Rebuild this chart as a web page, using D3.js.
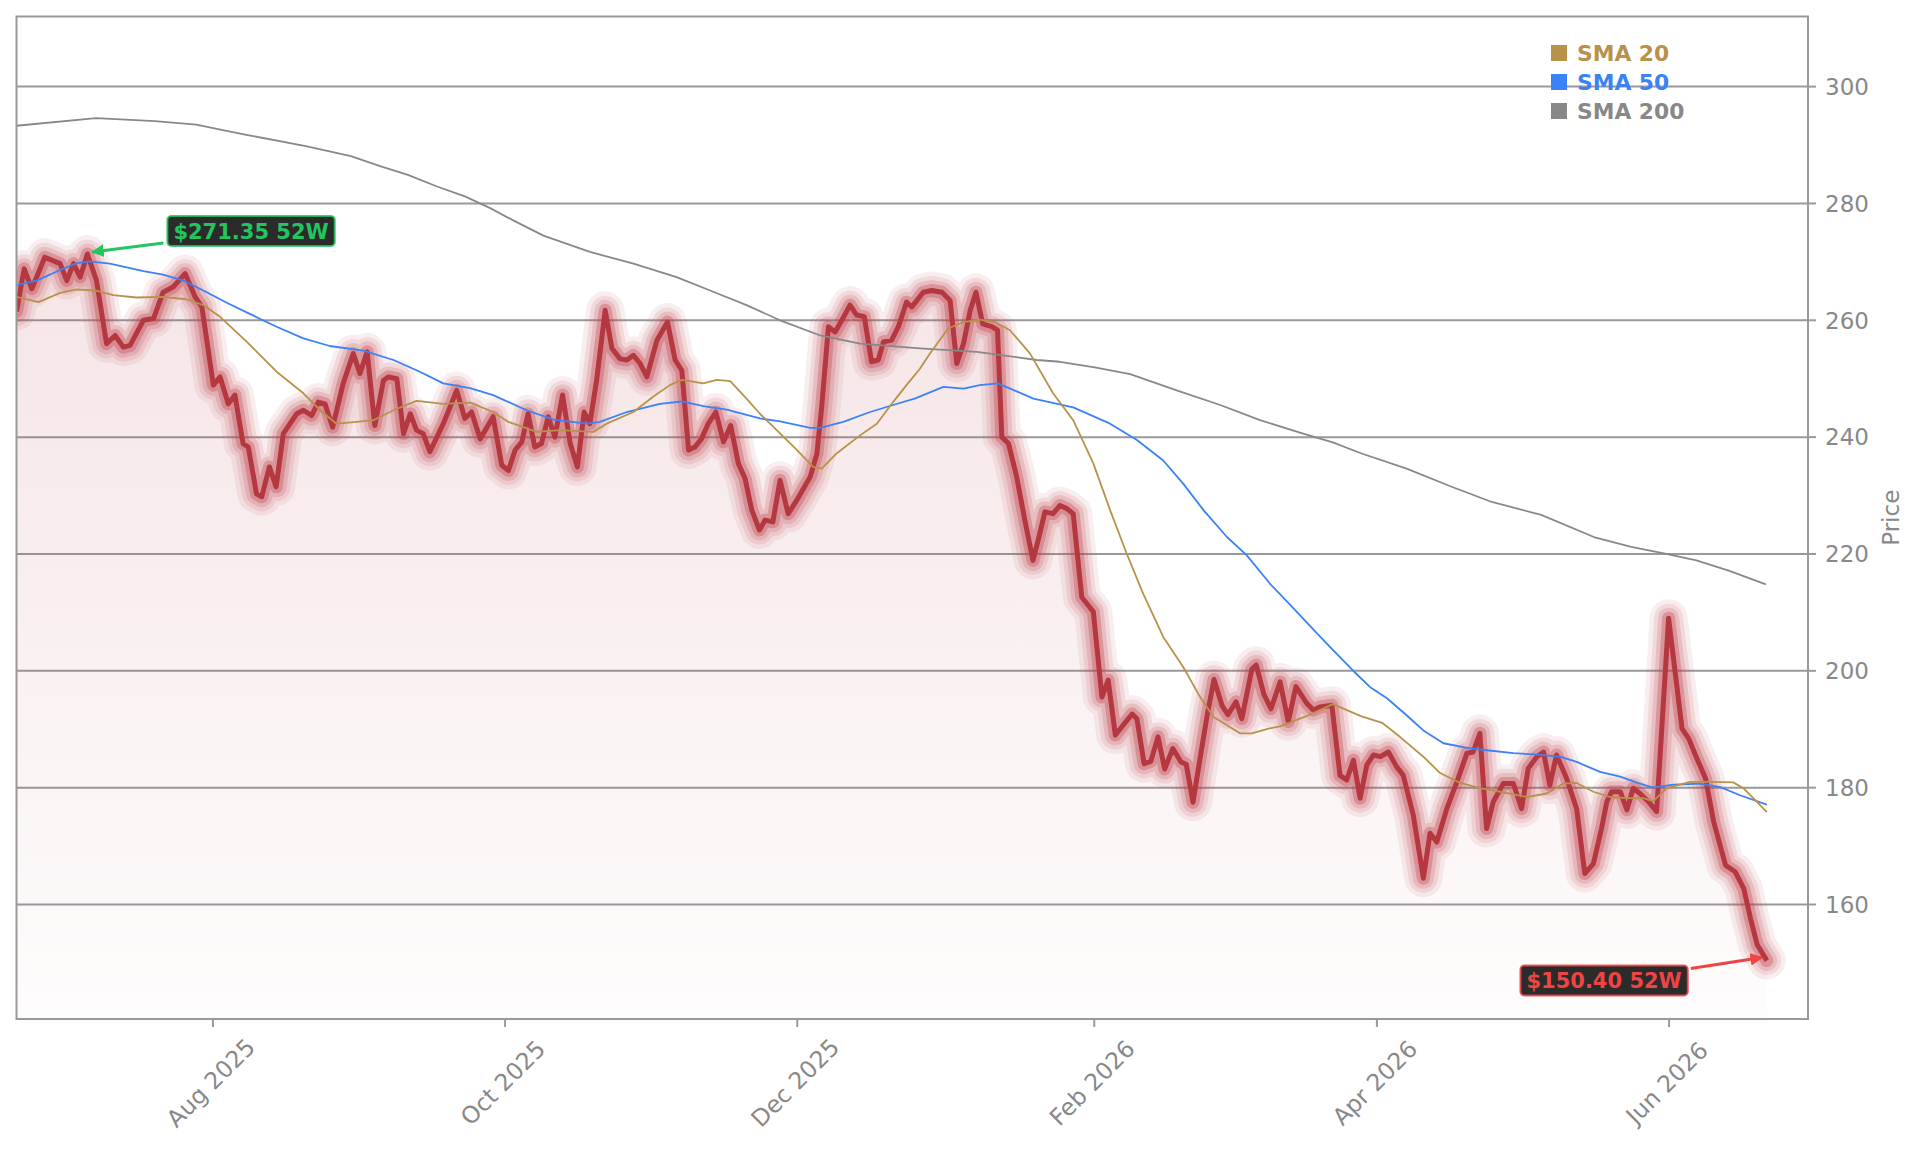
<!DOCTYPE html>
<html><head><meta charset="utf-8">
<script src="https://cdn.jsdelivr.net/npm/d3@7"></script>
<style>
body{margin:0;background:#fff;}
svg{display:block;font-family:"DejaVu Sans",sans-serif;}
</style>
</head><body>
<svg id="chart" width="1921" height="1151"></svg>
<script>
// ---------- data (day offsets from startDate) ----------
const startDate = "2025-06-21";
const endDate = "2026-06-30";

const priceDays = [0.0,1.6,3.2,5.9,9.1,10.5,11.9,13.3,14.8,16.7,18.8,20.6,22.3,23.7,26.5,28.6,30.6,32.7,35.2,37.3,38.7,41.1,42.5,44.2,45.6,47.3,48.4,50.1,51.2,52.8,54.2,55.7,58.5,59.9,61.6,63.0,64.4,66.0,68.2,70.3,71.7,73.2,74.8,76.6,77.6,79.4,80.8,82.2,83.5,84.9,86.3,89.1,91.9,93.6,95.0,96.8,99.5,101.3,102.7,104.1,105.5,106.8,108.2,109.6,111.0,112.4,114.0,115.6,117.1,118.5,119.7,121.1,122.9,124.3,126.0,127.4,128.8,130.2,131.6,133.7,135.9,137.5,138.9,140.3,141.6,143.0,144.4,146.0,147.6,149.1,150.7,152.1,153.5,155.1,156.3,157.9,159.4,161.1,162.9,165.7,167.1,168.1,169.5,170.9,172.3,174.0,175.4,177.0,178.5,179.9,181.0,182.7,184.1,185.8,186.9,189.3,191.1,193.2,194.9,196.3,197.7,199.1,200.3,201.7,203.6,204.8,205.7,207.1,208.8,210.5,212.2,213.3,214.7,216.4,217.8,219.2,220.6,222.4,224.8,226.6,227.9,229.4,231.8,232.9,233.9,235.4,236.8,238.3,239.7,241.4,243.1,244.2,245.6,247.3,248.7,250.0,251.7,252.9,254.6,255.8,257.9,258.8,260.4,261.9,263.8,265.5,267.1,269.4,270.7,272.1,274.6,276.3,277.7,279.1,280.5,281.9,283.3,284.7,286.4,288.1,289.5,291.6,293.7,295.1,296.5,298.6,300.7,302.8,304.1,305.5,306.9,308.3,310.4,312.5,314.2,315.6,317.4,318.8,320.1,321.5,323.6,325.7,327.4,329.2,330.9,332.0,333.0,334.8,336.2,337.5,338.9,340.7,342.4,344.9,347.7,349.1,350.8,352.6,354.3,356.8,358.8,360.6,362.0,363.4,365.4];
const priceValues = [261.5,268.8,265.4,270.8,269.7,266.8,269.7,267.4,271.35,266.8,256.0,257.4,255.4,255.7,260.0,260.3,264.8,265.7,268.0,264.0,262.3,248.9,250.3,245.7,247.2,238.9,238.3,230.3,229.8,234.9,231.5,240.6,244.0,244.6,243.7,246.0,245.7,241.7,249.2,254.3,250.9,254.6,242.0,249.7,250.3,250.0,240.6,244.0,241.2,240.6,237.5,242.3,248.0,243.2,244.3,239.7,243.5,235.2,234.3,237.8,239.2,244.0,238.3,238.9,243.5,240.0,247.2,238.9,234.9,244.3,242.3,249.7,261.7,255.2,253.4,253.2,254.0,252.6,250.3,256.6,259.7,253.2,251.4,237.8,238.3,239.7,242.3,244.3,239.2,242.0,235.5,232.9,227.5,224.1,225.8,225.5,232.6,226.9,229.2,233.2,237.2,245.2,258.9,258.0,260.0,262.6,260.9,260.6,252.9,253.2,256.3,256.6,258.9,263.1,262.3,264.8,265.1,264.8,263.4,252.6,256.0,261.7,264.8,259.4,258.9,258.3,240.0,238.9,233.2,225.8,218.9,222.4,227.2,226.9,228.3,227.8,226.9,212.6,210.1,195.5,198.4,189.0,191.5,192.6,191.8,184.1,184.5,188.7,183.2,186.7,184.4,184.0,177.5,186.1,193.0,198.5,194.0,192.5,194.7,191.8,200.3,201.0,196.0,193.5,198.1,191.3,197.3,194.4,193.3,193.8,194.1,182.1,181.3,184.7,178.2,183.9,185.6,185.3,186.1,183.6,182.1,175.3,164.5,172.2,170.7,176.4,181.0,185.9,186.1,189.3,173.0,177.6,180.7,180.7,176.4,183.3,185.3,186.1,180.4,185.6,181.6,176.4,165.3,167.0,173.0,177.6,179.3,179.3,176.2,179.9,179.0,177.6,175.9,209.0,190.1,188.4,185.0,181.6,174.2,166.7,165.6,162.7,157.6,153.1,150.4];

const sma20Days = [0,4.6,9.1,12.6,16.4,20.2,25.1,30.6,35.5,39.0,42.5,48.1,54.3,59.9,63.4,66.8,71.0,74.5,78.7,83.5,89.1,94.7,99.5,102.7,106.5,108.6,113.5,120.4,123.2,128.8,132.9,136.4,138.9,143.4,146.2,149.0,152.4,155.2,158.7,162.9,166.3,168.1,171.2,176.1,179.6,183.0,185.8,188.6,190.7,194.5,197.7,201.1,204.3,207.4,211.6,216.4,220.6,224.8,228.3,231.8,235.2,239.4,243.6,247.1,249.9,255.4,257.9,261.4,263.7,268.9,274.8,280.8,285.1,288.8,293.7,297.2,301.4,305.5,309.7,315.3,319.5,322.9,325.7,329.2,332.7,336.2,339.6,341.7,344.5,349.4,353.5,358.4,360.5,363.3,365.4];
const sma20Values = [264.0,263.1,264.7,265.3,265.1,264.3,263.9,264.0,263.6,262.6,260.6,256.3,251.2,247.5,244.6,242.3,242.6,242.9,244.6,246.2,245.7,245.9,244.3,242.6,241.5,240.9,241.2,240.9,242.3,244.3,246.9,248.9,249.8,249.2,249.8,249.6,246.6,244.0,241.2,237.8,234.9,234.6,237.2,240.3,242.3,246.0,248.9,251.7,254.3,258.6,259.7,260.1,259.7,258.3,254.3,247.5,242.9,235.5,227.5,220.0,213.2,205.8,200.6,195.5,192.1,189.3,189.3,190.1,190.5,192.1,194.3,192.2,191.1,188.7,185.3,182.5,180.8,179.9,179.3,178.4,179.0,180.7,180.8,179.3,178.4,178.2,178.2,177.7,179.9,181.0,181.0,180.9,179.9,177.6,175.8];

const sma50Days = [0,4.2,9.1,12.6,15.3,19.5,26.5,30.6,34.8,39.0,43.9,48.7,54.3,59.9,65.4,72.4,78.7,84.2,89.1,94.7,99.5,106.5,112.1,119.0,121.8,127.4,134.3,138.9,143.4,148.3,155.2,159.4,165.7,167.8,172.6,178.2,183.0,187.5,193.5,197.7,201.1,204.9,212.3,220.6,228.3,233.9,239.4,243.6,247.8,252.7,256.8,261.7,266.6,271.5,274.9,279.3,282.6,286.1,290.2,293.7,297.9,302.8,307.0,312.5,316.7,322.2,325.7,330.6,334.8,338.9,341.7,345.9,351.5,355.7,359.8,365.4];
const sma50Values = [266.0,266.8,268.6,269.8,270.1,269.7,268.4,267.8,266.8,265.1,263.0,261.1,258.9,256.9,255.6,254.8,253.2,251.2,249.2,248.4,247.2,244.6,243.0,242.3,242.6,244.3,245.7,246.1,245.3,244.7,243.2,242.7,241.6,241.6,242.6,244.3,245.5,246.6,248.6,248.3,248.9,249.2,246.6,245.1,242.3,239.5,236.0,232.0,227.5,222.9,219.8,214.9,210.7,206.4,203.5,199.8,197.2,195.3,192.4,189.8,187.6,186.8,186.4,185.9,185.7,185.3,184.4,182.7,181.9,180.7,180.0,180.5,180.7,180.1,178.7,177.1];

const sma200Days = [0,16.6,28.9,37.5,47.7,60.4,69.8,75.9,81.7,87.8,93.6,98.9,103.7,110.0,119.7,128.8,137.8,144.8,152.4,159.4,167.8,176.1,188.6,200.5,213.0,217.8,224.8,232.5,242.2,251.3,259.6,268.6,274.8,280.8,290.2,299.6,308.0,318.3,329.3,337.1,343.9,350.7,357.6,365.2];
const sma200Values = [293.3,294.6,294.1,293.5,291.8,289.8,288.1,286.4,284.9,282.9,281.2,279.2,277.1,274.5,271.7,269.7,267.4,265.1,262.6,260.0,257.4,256.0,255.2,254.6,253.2,252.9,252.0,250.8,248.0,245.5,242.9,240.6,239.1,237.2,234.6,231.5,228.9,226.7,222.9,221.2,220.1,218.9,217.1,214.8];

const yTickValues = [160,180,200,220,240,260,280,300];
const xTickDates = ["2025-08-01","2025-10-01","2025-12-01","2026-02-01","2026-04-01","2026-06-01"];
const legendLabels = ["SMA 20","SMA 50","SMA 200"];
const highLabel = "$271.35 52W";
const lowLabel = "$150.40 52W";
const yAxisTitle = "Price";

// ---------- styles ----------
const COL = {price:"#b5373f", glow:"#c0404c", sma20:"#b8924a", sma50:"#3b82f6", sma200:"#888888",
             grid:"#999999", text:"#888888", green:"#22c55e", red:"#ef4444", boxBg:"#2b2b2b"};

const svg = d3.select("#chart");
const L = 16.5, R = 1808, T = 16.5, B = 1019;
const parse = d3.timeParse("%Y-%m-%d");
const t0 = parse(startDate);
const toDate = d => new Date(t0.getTime() + d * 86400000);

const x = d3.scaleTime().domain([t0, parse(endDate)]).range([L, R]);
const y = d3.scaleLinear().domain([140.4, 312]).range([B, T]);

const price = priceDays.map((d,i)=>({date:toDate(d), v:priceValues[i]}));
const s20 = sma20Days.map((d,i)=>({date:toDate(d), v:sma20Values[i]}));
const s50 = sma50Days.map((d,i)=>({date:toDate(d), v:sma50Values[i]}));
const s200 = sma200Days.map((d,i)=>({date:toDate(d), v:sma200Values[i]}));

const defs = svg.append("defs");
defs.append("clipPath").attr("id","clip").append("rect")
  .attr("x",L).attr("y",T).attr("width",R-L).attr("height",B-T);
const grad = defs.append("linearGradient").attr("id","fillGrad")
  .attr("gradientUnits","userSpaceOnUse").attr("x1",0).attr("x2",0)
  .attr("y1",y(272)).attr("y2",B);
grad.append("stop").attr("offset",0).attr("stop-color","#b8404a").attr("stop-opacity",0.14);
grad.append("stop").attr("offset",1).attr("stop-color","#b8404a").attr("stop-opacity",0.015);

function marker(id,color){
  defs.append("marker").attr("id",id).attr("viewBox","0 0 10 10")
    .attr("refX",9).attr("refY",5).attr("markerWidth",4.2).attr("markerHeight",4.2)
    .attr("markerUnits","strokeWidth").attr("orient","auto")
    .append("path").attr("d","M0,0 L10,5 L0,10 Z").attr("fill",color);
}
marker("arrG",COL.green); marker("arrR",COL.red);

// gridlines
svg.append("g").selectAll("line").data(yTickValues).join("line")
  .attr("x1",L).attr("x2",R).attr("y1",d=>y(d)).attr("y2",d=>y(d))
  .attr("stroke",COL.grid).attr("stroke-width",2);

const plot = svg.append("g").attr("clip-path","url(#clip)");

// area fill
const area = d3.area().x(d=>x(d.date)).y0(B).y1(d=>y(d.v));
plot.append("path").datum(price).attr("d",area).attr("fill","url(#fillGrad)");

// glow layers + price line
const line = d3.line().x(d=>x(d.date)).y(d=>y(d.v));
[[38,0.09],[29,0.12],[21,0.18],[13,0.33]].forEach(([w,o])=>{
  plot.append("path").datum(price).attr("d",line).attr("fill","none")
    .attr("stroke",COL.glow).attr("stroke-opacity",o).attr("stroke-width",w)
    .attr("stroke-linejoin","round").attr("stroke-linecap","round");
});
plot.append("path").datum(price).attr("d",line).attr("fill","none")
  .attr("stroke",COL.price).attr("stroke-width",5).attr("stroke-linejoin","round");

// SMA lines
[[s200,COL.sma200],[s50,COL.sma50],[s20,COL.sma20]].forEach(([data,c])=>{
  plot.append("path").datum(data).attr("d",line).attr("fill","none")
    .attr("stroke",c).attr("stroke-width",1.8).attr("stroke-linejoin","round");
});

// frame
svg.append("rect").attr("x",L).attr("y",T).attr("width",R-L).attr("height",B-T)
  .attr("fill","none").attr("stroke",COL.grid).attr("stroke-width",2);

// y axis (right)
const yAxis = svg.append("g");
yAxis.selectAll("line").data(yTickValues).join("line")
  .attr("x1",R).attr("x2",R+8).attr("y1",d=>y(d)).attr("y2",d=>y(d))
  .attr("stroke",COL.grid).attr("stroke-width",2);
yAxis.selectAll("text").data(yTickValues).join("text")
  .attr("x",R+17).attr("y",d=>y(d)).attr("dy","0.36em")
  .attr("font-size",23).attr("fill",COL.text).text(d=>d);
svg.append("text").attr("transform",`translate(1899,${(T+B)/2}) rotate(-90)`)
  .attr("text-anchor","middle").attr("font-size",23).attr("fill",COL.text).text(yAxisTitle);

// x axis
const fmt = d3.timeFormat("%b %Y");
const xt = xTickDates.map(parse);
const xAxis = svg.append("g");
xAxis.selectAll("line").data(xt).join("line")
  .attr("x1",d=>x(d)).attr("x2",d=>x(d)).attr("y1",B).attr("y2",B+8)
  .attr("stroke",COL.grid).attr("stroke-width",2);
xAxis.selectAll("text").data(xt).join("text")
  .attr("transform",d=>`translate(${x(d)-2},${B+64}) rotate(-45)`)
  .attr("text-anchor","middle").attr("dominant-baseline","central")
  .attr("font-size",23.5).attr("fill",COL.text).text(d=>fmt(d));

// legend
const legColors = [COL.sma20, COL.sma50, COL.sma200];
const leg = svg.append("g");
legendLabels.forEach((lab,i)=>{
  leg.append("rect").attr("x",1551).attr("y",45+i*29).attr("width",16).attr("height",16).attr("fill",legColors[i]);
  leg.append("text").attr("x",1577).attr("y",60.5+i*29).attr("font-size",21.8).attr("font-weight","bold")
    .attr("fill",legColors[i]).text(lab);
});

// annotations
function annotate(pt, label, color, markerId, side){
  const px = x(pt.date), py = y(pt.v);
  const g = svg.append("g");
  const txt = g.append("text").attr("font-size",21).attr("font-weight","bold").attr("fill",color).text(label);
  const w = txt.node().getComputedTextLength();
  const bw = w + 12, bh = 30;
  let bx, by, ax1, ay1, ax2, ay2;
  if (side === "right") {
    bx = px + 80; by = py - 38;
    ax1 = px + 76; ay1 = py - 11; ax2 = px + 5; ay2 = py - 2;
  } else {
    bx = px - 79 - bw; by = py + 5;
    ax1 = px - 76; ay1 = py + 8; ax2 = px - 5; ay2 = py - 3;
  }
  g.insert("rect","text").attr("x",bx).attr("y",by).attr("width",bw).attr("height",bh)
    .attr("rx",4).attr("fill",COL.boxBg).attr("stroke",color).attr("stroke-opacity",0.85).attr("stroke-width",2);
  txt.attr("x",bx+6).attr("y",by+bh/2).attr("dy","0.36em");
  g.append("line").attr("x1",ax1).attr("y1",ay1).attr("x2",ax2).attr("y2",ay2)
    .attr("stroke",color).attr("stroke-width",3).attr("marker-end",`url(#${markerId})`);
}
const hiIdx = d3.maxIndex(price, d=>d.v), loIdx = d3.minIndex(price, d=>d.v);
annotate(price[hiIdx], highLabel, COL.green, "arrG", "right");
annotate(price[loIdx], lowLabel, COL.red, "arrR", "left");
</script>
</body></html>
